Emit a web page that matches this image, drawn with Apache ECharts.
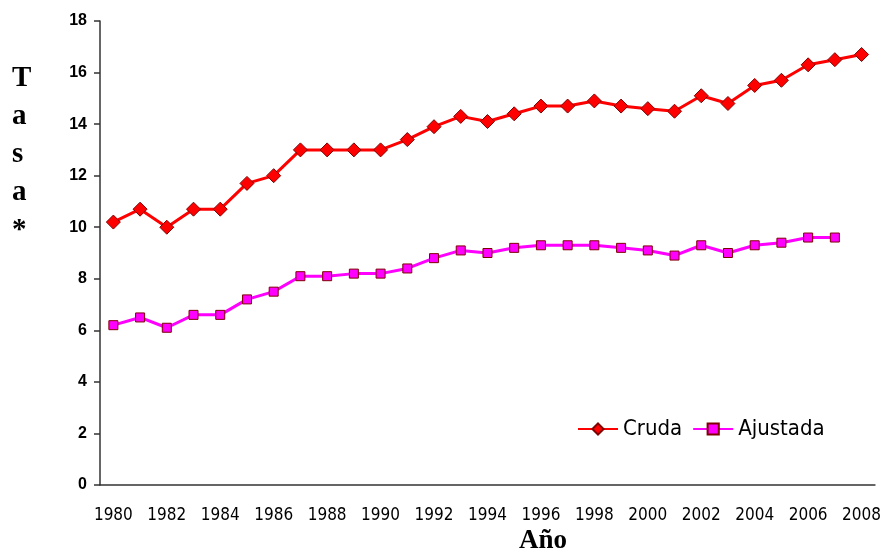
<!DOCTYPE html>
<html>
<head>
<meta charset="utf-8">
<script src="https://cdn.jsdelivr.net/npm/echarts@6/dist/echarts.min.js"></script>
<style>
  html, body { margin: 0; padding: 0; background: #fff; }
  #chart { width: 884px; height: 558px; }
</style>
</head>
<body>
<div id="chart"></div>
<script>
var years = ["1980", "1981", "1982", "1983", "1984", "1985", "1986", "1987", "1988", "1989",
  "1990", "1991", "1992", "1993", "1994", "1995", "1996", "1997", "1998", "1999",
  "2000", "2001", "2002", "2003", "2004", "2005", "2006", "2007", "2008"];
var cruda = [10.2, 10.7, 10.0, 10.7, 10.7, 11.7, 12.0, 13.0, 13.0, 13.0,
  13.0, 13.4, 13.9, 14.3, 14.1, 14.4, 14.7, 14.7, 14.9, 14.7,
  14.6, 14.5, 15.1, 14.8, 15.5, 15.7, 16.3, 16.5, 16.7];
var ajustada = [6.2, 6.5, 6.1, 6.6, 6.6, 7.2, 7.5, 8.1, 8.1, 8.2,
  8.2, 8.4, 8.8, 9.1, 9.0, 9.2, 9.3, 9.3, 9.3, 9.2,
  9.1, 8.9, 9.3, 9.0, 9.3, 9.4, 9.6, 9.6, null];

var narrow = "'DejaVu Sans Condensed', 'Liberation Sans Narrow', 'Roboto Condensed', sans-serif";

var chart = echarts.init(document.getElementById("chart"));
chart.setOption({
  animation: false,
  grid: { left: 100, right: 7, top: 21, bottom: 73 },
  legend: {
    left: 572,
    top: 413,
    itemWidth: 40,
    itemHeight: 14,
    itemGap: 10,
    textStyle: { fontFamily: narrow, fontSize: 22, color: "#000" },
    data: ["Cruda", "Ajustada"]
  },
  xAxis: {
    type: "category",
    data: years,
    boundaryGap: true,
    axisLine: { lineStyle: { color: "#333", width: 1.5 } },
    axisTick: { inside: false, length: 6, lineStyle: { color: "#333", width: 1.5 } },
    axisLabel: {
      interval: 1,
      margin: 22,
      fontFamily: narrow,
      fontSize: 17,
      color: "#000"
    }
  },
  yAxis: {
    type: "value",
    min: 0,
    max: 18,
    interval: 2,
    splitLine: { show: false },
    axisLine: { show: true, lineStyle: { color: "#333", width: 1.5 } },
    axisTick: { show: true, length: 6, lineStyle: { color: "#333", width: 1.5 } },
    axisLabel: {
      margin: 13,
      fontFamily: "Liberation Sans",
      fontWeight: "bold",
      fontSize: 16,
      color: "#000"
    }
  },
  graphic: [
    {
      type: "text",
      left: 12,
      top: 60,
      style: {
        text: "T\na\ns\na\n*",
        fontFamily: "Liberation Serif",
        fontWeight: "bold",
        fontSize: 29,
        lineHeight: 38,
        align: "center",
        fill: "#000"
      }
    },
    {
      type: "text",
      left: 519,
      top: 528,
      style: {
        text: "Año",
        fontFamily: "Liberation Serif",
        fontWeight: "bold",
        fontSize: 27,
        fill: "#000"
      }
    }
  ],
  series: [
    {
      name: "Cruda",
      type: "line",
      data: cruda,
      symbol: "diamond",
      symbolSize: 14,
      lineStyle: { color: "#FF0000", width: 3 },
      itemStyle: { color: "#FF0000", borderColor: "#800000", borderWidth: 1 }
    },
    {
      name: "Ajustada",
      type: "line",
      data: ajustada,
      symbol: "rect",
      symbolSize: 9,
      lineStyle: { color: "#FF00FF", width: 3 },
      itemStyle: { color: "#FF00FF", borderColor: "#800000", borderWidth: 1 }
    }
  ]
});
</script>
</body>
</html>
